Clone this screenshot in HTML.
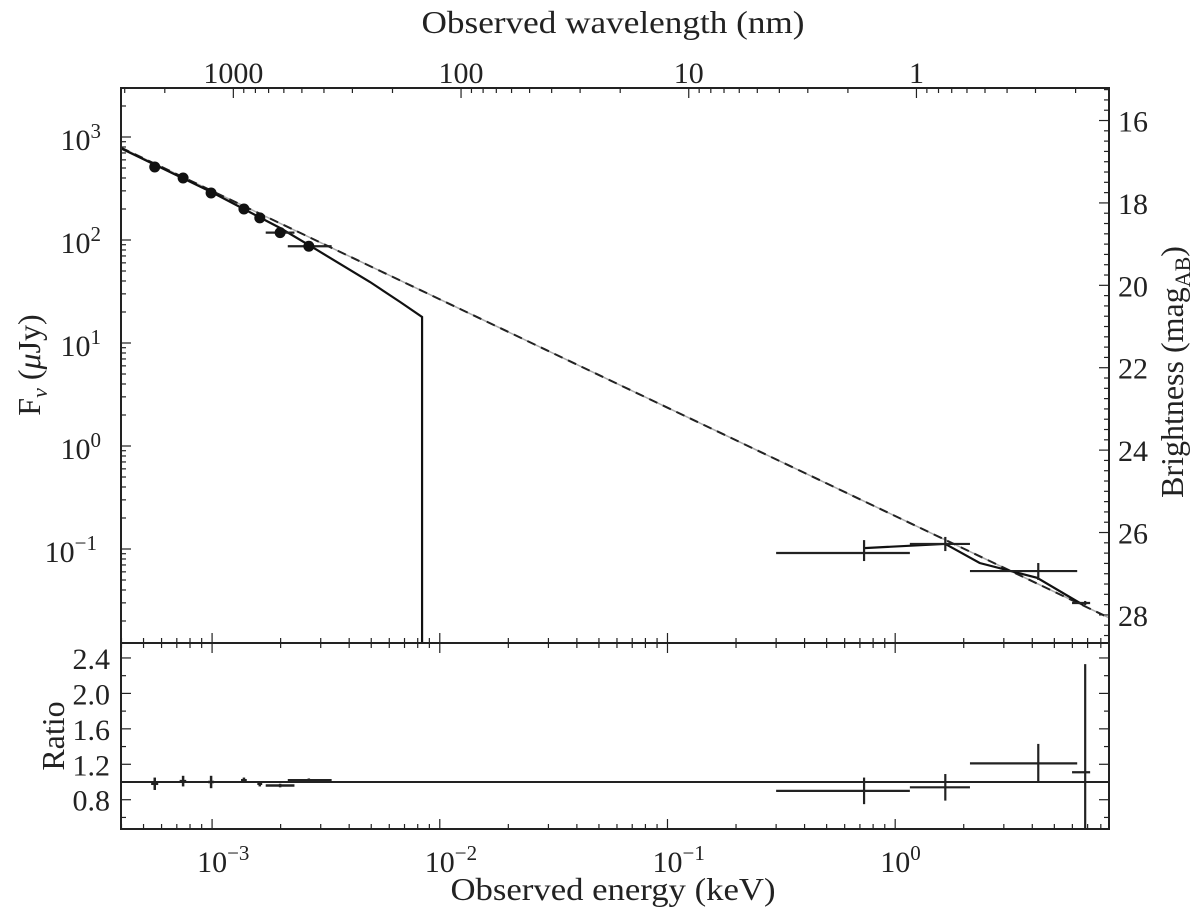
<!DOCTYPE html>
<html><head><meta charset="utf-8"><style>
html,body{margin:0;padding:0;background:#fff;}
svg text{font-family:"Liberation Serif","DejaVu Serif",serif;fill:#222;}
</style></head><body>
<svg id="chart" width="1200" height="915" viewBox="0 0 1200 915" xmlns="http://www.w3.org/2000/svg">
</svg>
<script>
// ---- data ----
const optE = [5.6e-4, 7.46e-4, 9.9e-4, 1.38e-3, 1.62e-3, 1.99e-3, 2.66e-3];
const optF = [512, 400, 286, 200, 164, 118, 87];
const optElo = [5.4e-4, 7.2e-4, 9.6e-4, 1.34e-3, 1.58e-3, 1.72e-3, 2.15e-3];
const optEhi = [5.8e-4, 7.7e-4, 1.02e-3, 1.42e-3, 1.66e-3, 2.30e-3, 3.35e-3];
const optRatio = [0.98, 1.01, 1.0, 1.02, 0.98, 0.96, 1.02];
const optRatioErr = [0.07, 0.06, 0.07, 0.03, 0.03, 0.02, 0.02];
const xrE = [0.73, 1.66, 4.25, 6.83];
const xrElo = [0.30, 1.16, 2.13, 5.98];
const xrEhi = [1.16, 2.13, 6.3, 7.18];
const xrF = [0.0914, 0.112, 0.0611, 0.0299];
const xrFlo = [0.0764, 0.0955, 0.0501, 0.0285];
const xrFhi = [0.122, 0.131, 0.0731, 0.0313];
const xrRatio = [0.90, 0.94, 1.21, 1.11];
const xrRatioLo = [0.75, 0.79, 1.0, 0.3];
const xrRatioHi = [1.05, 1.09, 1.43, 2.33];
const modelOptE = [3.95e-4, 1.0e-3, 2.0e-3, 2.89e-3, 4.94e-3, 6.70e-3, 8.36e-3, 8.36e-3];
const modelOptF = [782, 290, 130, 80, 39.1, 25.0, 17.9, 0.005];
const modelXrE = [0.73, 1.66, 2.35, 4.2, 6.7];
const modelXrF = [0.102, 0.112, 0.0731, 0.0525, 0.0286];
const plNorm = 0.209;   // power-law flux at 1 keV (uJy)
const plIndex = 1.052;
const xTickExp = [-3, -2, -1, 0];
const yTickExp = [3, 2, 1, 0, -1];
const ratioTicks = [0.8, 1.2, 1.6, 2.0, 2.4];
const magTicks = [16, 18, 20, 22, 24, 26, 28];
const wlTicks = [1000, 100, 10, 1];

// ---- axes ----
const L = 121, R = 1109, T = 88, MB = 643, B = 829;
const lxMin = -3.4, lxMax = 0.939;
const X = e => L + (Math.log10(e) - lxMin) / (lxMax - lxMin) * (R - L);
const Y = f => 137 - (Math.log10(f) - 3) * 103;
const YR = r => 782 - (r - 1) * 88.6;
const YM = m => Y(Math.pow(10, (23.9 - m) / 2.5));
const svg = document.getElementById('chart');
const NS = 'http://www.w3.org/2000/svg';
const FS = 30, SUP = 21;
function mk(tag, attrs, parent) {
  const el = document.createElementNS(NS, tag);
  for (const k in attrs) el.setAttribute(k, attrs[k]);
  (parent || svg).appendChild(el);
  return el;
}
function line(x1, y1, x2, y2, w, parent) {
  return mk('line', {x1, y1, x2, y2, stroke: '#222', 'stroke-width': w || 1.5}, parent);
}
function txt(s, x, y, size, anchor, parent) {
  const t = mk('text', {x, y, 'font-size': size, 'text-anchor': anchor || 'middle'}, parent);
  t.textContent = s;
  return t;
}
function powLabel(base, exp, x, y, anchor, parent) {
  const t = mk('text', {x, y, 'font-size': FS, 'text-anchor': anchor}, parent);
  t.appendChild(document.createTextNode(base));
  const s = document.createElementNS(NS, 'tspan');
  s.setAttribute('dy', -12); s.setAttribute('font-size', SUP);
  s.textContent = exp;
  t.appendChild(s);
  return t;
}

// ticks group
const ticks = mk('g', {});


for (let d = -4; d <= 0; d++) {
  for (let m = 1; m <= 9; m++) {
    const e = m * Math.pow(10, d);
    const lx = Math.log10(e);
    if (lx < lxMin || lx > lxMax) continue;
    const x = X(e), len = m === 1 ? 10 : 5;
    line(x, MB, x, MB - len, 1.2, ticks);
    line(x, MB, x, MB + len, 1.2, ticks);
    line(x, B, x, B - len, 1.2, ticks);
  }
}
for (let d = -1; d <= 4; d++) {
  for (let m = 1; m <= 9; m++) {
    const wl = m * Math.pow(10, d);
    const e = 1.23984 / wl;
    const lx = Math.log10(e);
    if (lx < lxMin || lx > lxMax) continue;
    const x = X(e), len = m === 1 ? 10 : 5;
    line(x, T, x, T + len, 1.2, ticks);
  }
}
for (let d = -2; d <= 3; d++) {
  for (let m = 1; m <= 9; m++) {
    const f = m * Math.pow(10, d);
    const y = Y(f);
    if (y < T || y > MB) continue;
    line(L, y, L + (m === 1 ? 10 : 5), y, 1.2, ticks);
  }
}
for (let m = 15; m <= 29; m += 0.25) {
  const y = YM(m);
  if (y < T || y > MB) continue;
  const major = Math.abs(m / 2 - Math.round(m / 2)) < 1e-6;
  line(R, y, R - (major ? 10 : 5), y, 1.2, ticks);
}
for (let r = 0.6; r <= 2.45; r += 0.2) {
  const y = YR(r);
  const major = Math.abs(((r - 0.8) / 0.4) - Math.round((r - 0.8) / 0.4)) < 1e-6;
  line(L, y, L + (major ? 10 : 5), y, 1.2, ticks);
  line(R, y, R - (major ? 10 : 5), y, 1.2, ticks);
}

// tick labels
const labs = mk('g', {});


xTickExp.forEach(ex => {
  powLabel('10', ex === 0 ? '0' : '\u2212' + (-ex), X(Math.pow(10, ex)) - 15, 872, 'start', labs);
});
yTickExp.forEach(ex => {
  powLabel('10', ex < 0 ? '\u2212' + (-ex) : String(ex), ex < 0 ? 97 : 101, Y(Math.pow(10, ex)) + 13, 'end', labs);
});
ratioTicks.forEach(r => { txt(r.toFixed(1), 110, YR(r) + 11, FS, 'end', labs); });
magTicks.forEach(m => { txt(String(m), 1118, YM(m) + 11, FS, 'start', labs); });
wlTicks.forEach(w => { txt(String(w), X(1.23984 / w), 83, FS, 'middle', labs); });

// axis titles
const t1 = txt('Observed wavelength (nm)', 613, 33, 32, 'middle');
t1.setAttribute('textLength', 383);
t1.setAttribute('lengthAdjust', 'spacingAndGlyphs');


const t2 = txt('Observed energy (keV)', 613, 900, 32, 'middle');
t2.setAttribute('textLength', 325);
t2.setAttribute('lengthAdjust', 'spacingAndGlyphs');


const t3 = mk('text', {x: 0, y: 0, 'font-size': 32, 'text-anchor': 'middle', transform: 'translate(40,365) rotate(-90)'});
t3.innerHTML = 'F<tspan font-size="22" dy="7" font-style="italic">\u03bd</tspan><tspan dy="-7"> (</tspan><tspan font-style="italic">\u03bc</tspan>Jy)';


const t4 = mk('text', {x: 0, y: 0, 'font-size': 32, 'text-anchor': 'middle', transform: 'translate(64,736) rotate(-90)'});
t4.textContent = 'Ratio';


const t5 = mk('text', {x: 0, y: 0, 'font-size': 32, 'text-anchor': 'middle', transform: 'translate(1183,372) rotate(-90)'});
t5.innerHTML = 'Brightness (mag<tspan font-size="22" dy="7">AB</tspan><tspan dy="-7">)</tspan>';



// clip
const defs = mk('defs', {});
const cp = mk('clipPath', {id: 'mainclip'}, defs);
mk('rect', {x: L, y: T, width: R - L, height: MB - T}, cp);
const cp2 = mk('clipPath', {id: 'ratioclip'}, defs);
mk('rect', {x: L, y: MB, width: R - L, height: B - MB}, cp2);

// power law dashed
const pl = mk('g', {'clip-path': 'url(#mainclip)'});


const e0 = Math.pow(10, lxMin), e1 = Math.pow(10, lxMax);
const plF = e => plNorm * Math.pow(e, -plIndex);
mk('line', {x1: X(e0), y1: Y(plF(e0)), x2: X(e1), y2: Y(plF(e1)), stroke: '#aaa', 'stroke-width': 1.5}, pl);
mk('line', {x1: X(e0), y1: Y(plF(e0)), x2: X(e1), y2: Y(plF(e1)), stroke: '#222', 'stroke-width': 2, 'stroke-dasharray': '9,6'}, pl);

// solid model
const sm = mk('g', {'clip-path': 'url(#mainclip)'});


mk('polyline', {points: modelOptE.map((e, i) => X(e) + ',' + Y(modelOptF[i])).join(' '), fill: 'none', stroke: '#111', 'stroke-width': 2.2}, sm);
mk('polyline', {points: modelXrE.map((e, i) => X(e) + ',' + Y(modelXrF[i])).join(' '), fill: 'none', stroke: '#111', 'stroke-width': 2.2}, sm);

// optical data
const od = mk('g', {});


optE.forEach((e, i) => {
  const x = X(e), y = Y(optF[i]);
  line(X(optElo[i]), y, X(optEhi[i]), y, 2.2, od);
  line(x, Y(optF[i] * 1.06), x, Y(optF[i] / 1.06), 2.2, od);
  const c = mk('circle', {cx: x, cy: y, r: 5.5, fill: '#111'}, od);
  
  
});
// X-ray data
const xd = mk('g', {});


xrE.forEach((e, i) => {
  const y = Y(xrF[i]);
  line(X(xrElo[i]), y, X(xrEhi[i]), y, 2.2, xd);
  line(X(e), Y(xrFlo[i]), X(e), Y(xrFhi[i]), 2.2, xd);
});

// ratio panel
const rp = mk('g', {'clip-path': 'url(#ratioclip)'});


line(L, YR(1), R, YR(1), 2, rp);
optE.forEach((e, i) => {
  const y = YR(optRatio[i]);
  line(X(optElo[i]), y, X(optEhi[i]), y, 2.5, rp);
  line(X(e), YR(optRatio[i] - optRatioErr[i]), X(e), YR(optRatio[i] + optRatioErr[i]), 2.5, rp);
});
xrE.forEach((e, i) => {
  const y = YR(xrRatio[i]);
  line(X(xrElo[i]), y, X(xrEhi[i]), y, 2.2, rp);
  line(X(e), YR(xrRatioLo[i]), X(e), YR(xrRatioHi[i]), 2.2, rp);
});

// frames
const fr = mk('g', {fill: 'none', stroke: '#222', 'stroke-width': 2});


mk('rect', {x: L, y: T, width: R - L, height: MB - T}, fr);
mk('rect', {x: L, y: MB, width: R - L, height: B - MB}, fr);
</script>
</body></html>
